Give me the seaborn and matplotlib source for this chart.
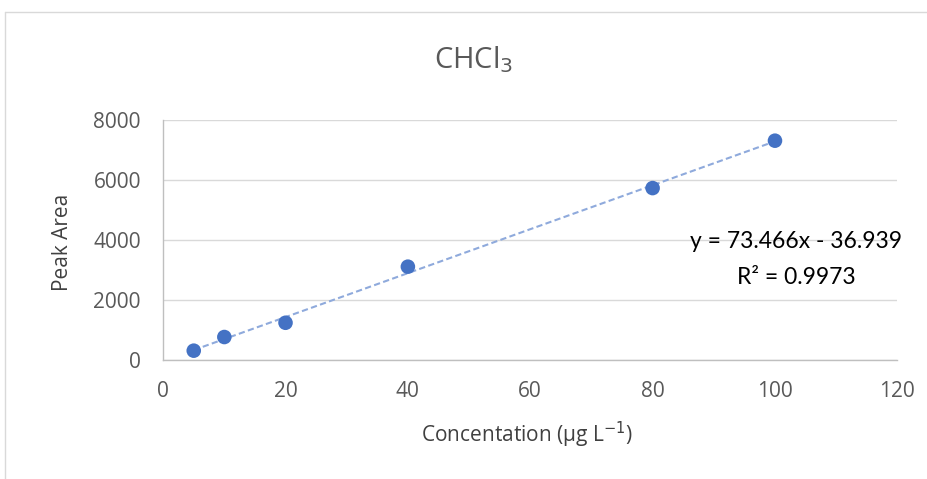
import matplotlib
matplotlib.use("Agg")
import matplotlib.pyplot as plt
from matplotlib.lines import Line2D
import seaborn as sns
import numpy as np
import pandas as pd

# data
concentration = [5, 10, 20, 40, 80, 100]
peak_area = [310, 765, 1240, 3110, 5730, 7310]
x_ticks = [0, 20, 40, 60, 80, 100, 120]
y_ticks = [0, 2000, 4000, 6000, 8000]
equation_text = "y = 73.466x - 36.939"
r2_text = "R² = 0.9973"

sns.set_theme(style="white")
plt.rcParams['font.family'] = ['Open Sans', 'DejaVu Sans']

df = pd.DataFrame({"Concentration": concentration, "Peak Area": peak_area})

fig = plt.figure(figsize=(9.27, 4.79), dpi=100)
ax = fig.add_axes([0.176, 0.2485, 0.792, 0.501])

# trendline
slope, intercept = np.polyfit(concentration, peak_area, 1)
xs = np.array([min(concentration), max(concentration)])
trend = pd.DataFrame({"x": xs, "y": slope * xs + intercept})
sns.lineplot(data=trend, x="x", y="y", ax=ax, color="#8FAADC",
             linestyle=(0, (3, 1.6)), linewidth=1.5, zorder=2)

sns.scatterplot(data=df, x="Concentration", y="Peak Area", ax=ax,
                color="#4472C4", s=110, edgecolor="none", zorder=3)

ax.set_xlim(0, 120)
ax.set_ylim(0, 8000)
ax.set_xticks(x_ticks)
ax.set_yticks(y_ticks)
ax.set_xticklabels([str(t) for t in x_ticks])
ax.set_yticklabels([str(t) for t in y_ticks])
ax.grid(axis="y", color="#D9D9D9", linewidth=1)
ax.set_axisbelow(True)
for s in ["top", "right"]:
    ax.spines[s].set_visible(False)
for s in ["left", "bottom"]:
    ax.spines[s].set_color("#BFBFBF")
    ax.spines[s].set_linewidth(1)
ax.tick_params(axis="both", labelsize=15, colors="#595959", length=0)
ax.tick_params(axis="y", pad=16)
ax.tick_params(axis="x", pad=15)

ax.set_xlabel("Concentation (µg L$^{-1}$)", fontsize=15, color="#404040", va="center")
ax.xaxis.set_label_coords(527 / 927, 1 - 435 / 479, transform=fig.transFigure)
ax.set_ylabel("Peak Area", fontsize=15, color="#404040", va="center")
ax.yaxis.set_label_coords(63 / 927, 1 - 242 / 479, transform=fig.transFigure)

fig.text(474 / 927, 1 - 60 / 479, "CHCl$_3$", ha="center", va="center",
         fontsize=21, color="#595959")

fig.text(796 / 927, 1 - 242 / 479, equation_text, ha="center", va="center",
         fontsize=16.5, color="#000000", family=['Lato', 'DejaVu Sans'])
fig.text(796 / 927, 1 - 278 / 479, r2_text, ha="center", va="center",
         fontsize=16.5, color="#000000", family=['Lato', 'DejaVu Sans'])

# outer chart border (top and left visible)
fig.add_artist(Line2D([0.005, 1.0], [1 - 12 / 479, 1 - 12 / 479], color="#D9D9D9", linewidth=1))
fig.add_artist(Line2D([0.005, 0.005], [0, 1 - 12 / 479], color="#D9D9D9", linewidth=1))

fig.savefig("out.png", dpi=100, facecolor="white")
